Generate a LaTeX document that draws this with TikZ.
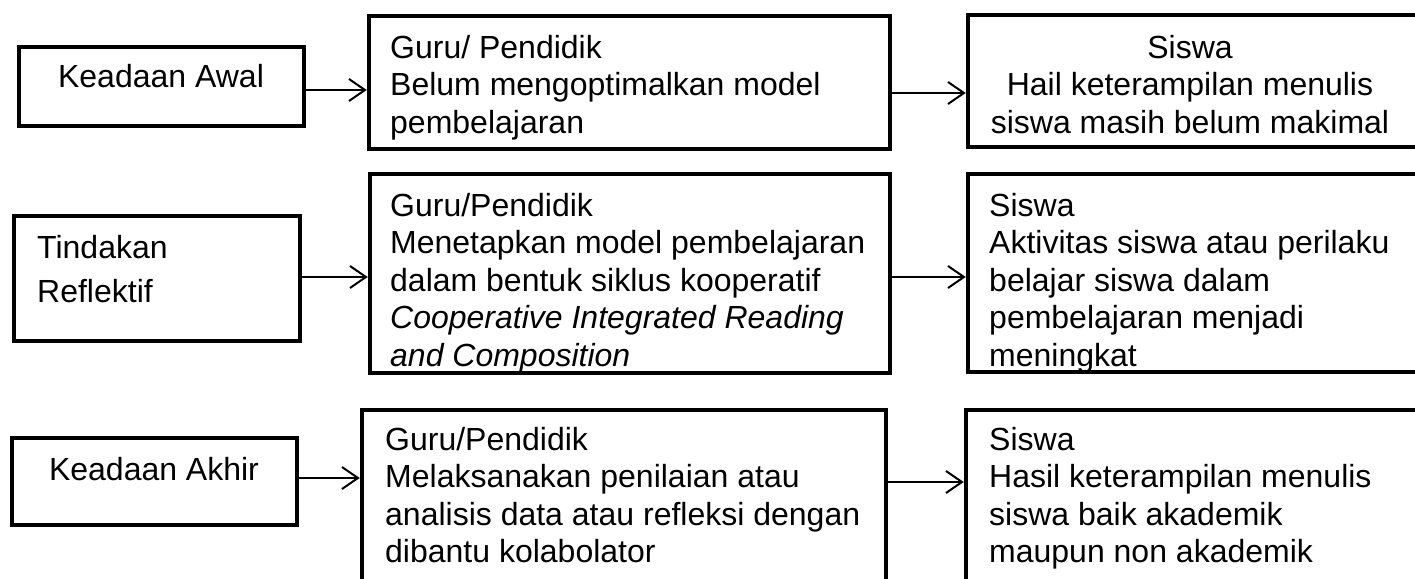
\documentclass[tikz,border=0pt]{standalone}
\usepackage{fontspec}
\setmainfont{Liberation Sans}
\usetikzlibrary{fit,arrows.meta}
\tikzset{
  box/.style={draw, line width=4.5pt, inner sep=0pt, rectangle},
  txt/.style={inner sep=0pt, align=left, font=\fontsize{32}{37.5}\selectfont},
  ctxt/.style={inner sep=0pt, align=center, font=\fontsize{32}{37.5}\selectfont},
  arr/.style={line width=2pt, -{Straight Barb[length=16pt,width=22pt]}}
}
\begin{document}
\begin{tikzpicture}[x=1pt,y=-1pt]
\useasboundingbox (0,0) rectangle (1415,578);
\clip (0,0) rectangle (1415,578);
% row 1
\node[box, fit={(19,47) (304,126)}] (a1) {};
\node[box, fit={(369,16) (890,149)}] (g1) {};
\node[box, fit={(968,15) (1421,147)}] (s1) {};
% row 2
\node[box, fit={(14,216) (300,341)}] (a2) {};
\node[box, fit={(370,174) (890,373)}] (g2) {};
\node[box, fit={(968,174) (1421,372)}] (s2) {};
% row 3
\node[box, fit={(12,438) (297,525)}] (a3) {};
\node[box, fit={(362,410) (886,610)}] (g3) {};
\node[box, fit={(966,410) (1421,610)}] (s3) {};
% texts
\node[ctxt, anchor=base] (a1t) at (161,88) {Keadaan Awal};
\node[txt, anchor=north west, font=\fontsize{32}{44}\selectfont] (a2t) at (37,258-30.8) {\strut Tindakan\\Reflektif};
\node[ctxt, anchor=base] (a3t) at (154,480) {Keadaan Akhir};
\node[txt, anchor=north west] (g1t) at (390,58-26.25) {\strut Guru/ Pendidik\\Belum mengoptimalkan model\\pembelajaran};
\node[ctxt, anchor=north] (s1t) at (1190,58-26.25) {\strut Siswa\\Hail keterampilan menulis\\siswa masih belum makimal};
\node[txt, anchor=north west] (g2t) at (390,216-26.25) {\strut Guru/Pendidik\\Menetapkan model pembelajaran\\dalam bentuk siklus kooperatif\\\textit{Cooperative Integrated Reading}\\\textit{and Composition}};
\node[txt, anchor=north west] (s2t) at (989,216-26.25) {\strut Siswa\\Aktivitas siswa atau perilaku\\belajar siswa dalam\\pembelajaran menjadi\\meningkat};
\node[txt, anchor=north west] (g3t) at (385,450-26.25) {\strut Guru/Pendidik\\Melaksanakan penilaian atau\\analisis data atau refleksi dengan\\dibantu kolabolator};
\node[txt, anchor=north west] (s3t) at (989,450-26.25) {\strut Siswa\\Hasil keterampilan menulis\\siswa baik akademik\\maupun non akademik};
% arrows
\draw[arr] (a1.east |- 0,90) -- (g1.west |- 0,90);
\draw[arr] (g1.east |- 0,93) -- (s1.west |- 0,93);
\draw[arr] (a2.east |- 0,277) -- (g2.west |- 0,277);
\draw[arr] (g2.east |- 0,277) -- (s2.west |- 0,277);
\draw[arr] (a3.east |- 0,478) -- (g3.west |- 0,478);
\draw[arr] (g3.east |- 0,482) -- (s3.west |- 0,482);
\end{tikzpicture}
\end{document}
